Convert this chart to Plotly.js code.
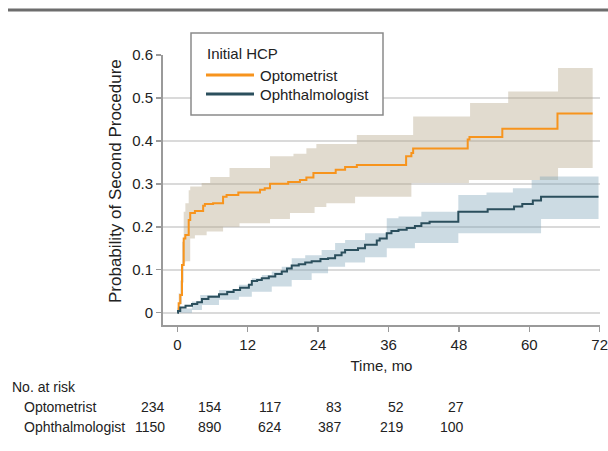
<!DOCTYPE html>
<html>
<head>
<meta charset="utf-8">
<script src="https://cdn.plot.ly/plotly-3.0.1.min.js"></script>
<style>html,body{margin:0;padding:0;background:#fff;}#chart{width:608px;height:451px;}</style>
</head>
<body>
<div id="chart"></div>
<script>
// ---- Data ----
const seriesNames = ['Optometrist', 'Ophthalmologist'];
const legendTitle = 'Initial HCP';

const optoTime = [0, 0.23, 0.5, 0.8, 1.09, 1.37, 1.94, 2.2, 3.0, 4.4, 4.7, 6.1, 7.8, 8.4, 10.4, 14.1, 14.9, 15.8, 18.9, 20.9, 22.0, 23.2, 27.0, 28.6, 30.6, 39.0, 39.9, 40.2, 49.5, 49.8, 55.4, 64.8, 70.8];
const optoProb = [0.004, 0.022, 0.041, 0.111, 0.173, 0.181, 0.216, 0.232, 0.237, 0.249, 0.253, 0.255, 0.270, 0.274, 0.280, 0.286, 0.290, 0.300, 0.304, 0.309, 0.315, 0.325, 0.333, 0.339, 0.344, 0.364, 0.372, 0.382, 0.403, 0.409, 0.428, 0.464, 0.464];

const optoUpperTime = [0, 0.23, 0.5, 0.8, 1.09, 1.37, 1.94, 2.2, 4.15, 5.6, 8.9, 15.8, 19.8, 22.0, 23.7, 30.6, 40.2, 49.9, 56.4, 64.9, 70.8];
const optoUpper = [0.012, 0.045, 0.075, 0.165, 0.235, 0.255, 0.285, 0.294, 0.302, 0.316, 0.337, 0.364, 0.370, 0.383, 0.393, 0.414, 0.457, 0.488, 0.515, 0.570, 0.570];

const optoLowerTime = [0, 0.23, 0.5, 0.8, 1.09, 1.37, 2.2, 3.0, 5.0, 7.8, 10.6, 15.8, 19.2, 23.4, 25.4, 30.3, 39.9, 49.7, 64.9, 70.8];
const optoLower = [0.001, 0.008, 0.020, 0.070, 0.117, 0.120, 0.173, 0.180, 0.189, 0.200, 0.208, 0.218, 0.232, 0.246, 0.255, 0.270, 0.302, 0.309, 0.337, 0.337];

const ophTime = [0, 0.12, 0.5, 1.4, 2.5, 3.4, 4.2, 5.3, 7.1, 8.5, 9.6, 10.7, 12.2, 12.7, 13.6, 14.4, 15.6, 16.7, 17.8, 18.7, 19.5, 20.7, 21.8, 22.9, 24.4, 25.7, 26.9, 28.0, 28.6, 30.8, 32.0, 34.0, 34.5, 35.7, 36.5, 37.7, 39.1, 40.5, 41.6, 43.0, 47.9, 52.9, 57.4, 58.8, 60.6, 62.0, 71.8];
const ophProb = [0.000, 0.004, 0.012, 0.016, 0.020, 0.024, 0.032, 0.037, 0.043, 0.048, 0.053, 0.058, 0.065, 0.074, 0.076, 0.080, 0.084, 0.090, 0.096, 0.103, 0.110, 0.113, 0.117, 0.120, 0.125, 0.127, 0.134, 0.140, 0.146, 0.150, 0.158, 0.168, 0.173, 0.185, 0.190, 0.193, 0.197, 0.202, 0.208, 0.212, 0.235, 0.241, 0.247, 0.253, 0.261, 0.270, 0.270];

const ophUpperTime = [0, 0.1, 2.5, 3.9, 7.1, 10.5, 12.7, 14.4, 16.1, 17.8, 19.5, 21.8, 24.6, 26.9, 28.6, 32.0, 35.7, 37.7, 41.6, 47.9, 52.7, 57.2, 60.4, 61.8, 71.8];
const ophUpper = [0.004, 0.010, 0.026, 0.041, 0.053, 0.065, 0.080, 0.088, 0.096, 0.107, 0.127, 0.134, 0.146, 0.162, 0.169, 0.185, 0.220, 0.224, 0.235, 0.274, 0.280, 0.290, 0.309, 0.317, 0.317];

const ophLowerTime = [0, 2.5, 4.2, 7.1, 10.5, 12.7, 16.1, 19.5, 22.9, 25.7, 28.6, 32.0, 35.7, 40.5, 47.9, 62.0, 71.8];
const ophLower = [0.000, 0.006, 0.018, 0.030, 0.037, 0.049, 0.061, 0.076, 0.092, 0.107, 0.117, 0.129, 0.150, 0.162, 0.185, 0.218, 0.218];

const xTickVals = [0, 12, 24, 36, 48, 60, 72];
const yTickVals = [0, 0.1, 0.2, 0.3, 0.4, 0.5, 0.6];
const yTickText = ['0', '0.1', '0.2', '0.3', '0.4', '0.5', '0.6'];

const atRiskTitle = 'No. at risk';
const atRiskOpto = [234, 154, 117, 83, 52, 27];
const atRiskOph = [1150, 890, 624, 387, 219, 100];

// ---- Styling / layout ----
const FONT = 'Liberation Sans, Arial, sans-serif';
const W = 608, H = 451;
const M = {l: 163, r: 8, t: 55, b: 126};
const PW = W - M.l - M.r, PH = H - M.t - M.b;
const px = x => (x - M.l) / PW;
const py = y => (H - M.b - y) / PH;

const orange = '#f7941d';
const slate = '#2b4f5d';
const beige = 'rgba(180,164,135,0.40)';
const blueBand = 'rgba(120,160,182,0.38)';

const traces = [
  {x: optoLowerTime, y: optoLower, mode: 'lines', line: {width: 0, shape: 'hv'}, showlegend: false, hoverinfo: 'skip'},
  {x: optoUpperTime, y: optoUpper, mode: 'lines', line: {width: 0, shape: 'hv'}, fill: 'tonexty', fillcolor: beige, showlegend: false, hoverinfo: 'skip'},
  {x: ophLowerTime, y: ophLower, mode: 'lines', line: {width: 0, shape: 'hv'}, showlegend: false, hoverinfo: 'skip'},
  {x: ophUpperTime, y: ophUpper, mode: 'lines', line: {width: 0, shape: 'hv'}, fill: 'tonexty', fillcolor: blueBand, showlegend: false, hoverinfo: 'skip'},
  {x: optoTime, y: optoProb, name: seriesNames[0], mode: 'lines', line: {color: orange, width: 2, shape: 'hv'}, showlegend: false},
  {x: ophTime, y: ophProb, name: seriesNames[1], mode: 'lines', line: {color: slate, width: 2, shape: 'hv'}, showlegend: false}
];

const colRight = [167, 224, 284, 344, 406, 466];
const annotations = [
  {text: 'Probability of Second Procedure', x: px(115), y: py(181), textangle: -90, font: {size: 17}},
  {text: atRiskTitle, x: px(10), y: py(387), xanchor: 'left', font: {size: 14}},
  {text: seriesNames[0], x: px(22), y: py(407), xanchor: 'left', font: {size: 14}},
  {text: seriesNames[1], x: px(22), y: py(427), xanchor: 'left', font: {size: 14}},
  // legend texts
  {text: legendTitle, x: px(205), y: py(54), xanchor: 'left', font: {size: 15}},
  {text: seriesNames[0], x: px(258), y: py(75), xanchor: 'left', font: {size: 15}},
  {text: seriesNames[1], x: px(258), y: py(94), xanchor: 'left', font: {size: 15}}
];
atRiskOpto.forEach((v, i) => annotations.push({text: String(v), x: px(colRight[i]), y: py(407), xanchor: 'right', font: {size: 14}}));
atRiskOph.forEach((v, i) => annotations.push({text: String(v), x: px(colRight[i]), y: py(427), xanchor: 'right', font: {size: 14}}));
annotations.forEach(a => { a.xref = 'paper'; a.yref = 'paper'; a.showarrow = false; a.yanchor = 'middle'; a.xanchor = a.xanchor || 'center'; a.font.family = FONT; a.font.color = '#222'; });

const shapes = [
  {type: 'line', x0: px(8), x1: px(608), y0: py(10), y1: py(10), line: {color: '#6d6d6d', width: 3}},
  // legend box and keys
  {type: 'rect', x0: px(191), x1: px(383), y0: py(33), y1: py(115), fillcolor: '#ffffff', line: {color: '#8a8a8a', width: 1.5}},
  {type: 'line', x0: px(206), x1: px(254), y0: py(75), y1: py(75), line: {color: orange, width: 3}},
  {type: 'line', x0: px(206), x1: px(254), y0: py(94), y1: py(94), line: {color: slate, width: 3}}
];
shapes.forEach(s => { s.xref = 'paper'; s.yref = 'paper'; s.layer = 'above'; });

const layout = {
  width: W, height: H,
  margin: M,
  paper_bgcolor: '#fff', plot_bgcolor: '#fff',
  font: {family: FONT, size: 15, color: '#222'},
  showlegend: false,
  xaxis: {
    range: [-2.44, 72.05], tickvals: xTickVals, ticktext: xTickVals.map(String),
    ticklabeloverflow: 'allow',
    showgrid: false, zeroline: false, showline: true, linecolor: '#9a9a9a', linewidth: 2,
    ticks: 'outside', ticklen: 5, tickwidth: 1.5, tickcolor: '#9a9a9a',
    tickfont: {size: 15, color: '#222'},
    title: {text: 'Time, mo', font: {size: 15, color: '#222'}, standoff: 8}
  },
  yaxis: {
    range: [-0.0287, 0.6], tickvals: yTickVals, ticktext: yTickText,
    showgrid: true, gridcolor: '#dadada', gridwidth: 2, zeroline: false,
    showline: true, linecolor: '#9a9a9a', linewidth: 2,
    ticks: 'outside', ticklen: 5, tickwidth: 1.5, tickcolor: '#9a9a9a',
    tickfont: {size: 15, color: '#222'}
  },
  shapes: shapes,
  annotations: annotations
};

Plotly.newPlot('chart', traces, layout, {displayModeBar: false, staticPlot: true});
</script>
</body>
</html>
